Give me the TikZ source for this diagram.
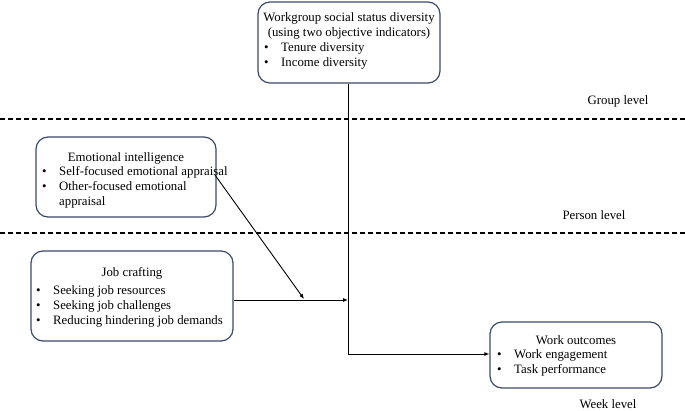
\documentclass[tikz,border=0pt]{standalone}
\usepackage{fontspec}
\setmainfont{Liberation Serif}
\usetikzlibrary{arrows.meta}
\definecolor{bx}{HTML}{3A4A66}
\newcommand{\bl}{\makebox[17pt][l]{\textbullet}}
\begin{document}
\begin{tikzpicture}[x=1pt,y=-1pt,
  box/.style={draw=bx,line width=1.2pt,rounded corners=12pt,inner sep=0pt},
  txt/.style={font=\fontsize{12.8}{15}\selectfont,align=left,anchor=north west,inner sep=0pt},
  lvl/.style={font=\fontsize{12.8}{15}\selectfont,inner sep=0pt},
  dl/.style={dashed,line width=1.1pt,dash pattern=on 5pt off 3pt},
  ar/.style={line width=0.9pt,-{Latex[length=5pt,width=4pt]}}]
\useasboundingbox (0,0) rectangle (685,410);
% boxes
\node[box,minimum width=182pt,minimum height=81pt] (top) at (349,42.5) {};
\node[txt,anchor=north,align=center] (toptx) at (349,12) {Workgroup social status diversity\\(using two objective indicators)};
\node[txt] (topb) at (264,42) {\bl Tenure diversity\\\bl Income diversity};
\node[box,minimum width=180pt,minimum height=80pt] (ei) at (126,177) {};
\node[txt,anchor=north] (eit) at (126,152) {Emotional intelligence};
\node[txt] (eib) at (42,166) {\bl Self-focused emotional appraisal\\\bl Other-focused emotional\\\hspace*{17pt}appraisal};
\node[box,minimum width=202pt,minimum height=90pt] (jc) at (132,296) {};
\node[txt,anchor=north] (jct) at (132,267) {Job crafting};
\node[txt] (jcb) at (36,285) {\bl Seeking job resources\\\bl Seeking job challenges\\\bl Reducing hindering job demands};
\node[box,minimum width=172pt,minimum height=66pt] (wo) at (576,355) {};
\node[txt,anchor=north] (wot) at (576,335) {Work outcomes};
\node[txt] (wob) at (497,349) {\bl Work engagement\\\bl Task performance};
% levels
\node[lvl] (gl) at (618,101) {Group level};
\node[lvl] (pl) at (594,215) {Person level};
\node[lvl] (wl) at (608,404) {Week level};
\coordinate (d1a) at (0,119); \coordinate (d1b) at (685,119);
\coordinate (d2a) at (0,233); \coordinate (d2b) at (685,233);
\draw[dl] (d1a) -- (d1b);
\draw[dl] (d2a) -- (d2b);
% connectors
\coordinate (v) at (348,300);
\coordinate (c) at (348,354);
\coordinate (m) at (304,299);
\draw[ar] (jc.east |- v) -- (v);
\draw[line width=0.9pt] (top.south -| v) -- (c);
\draw[ar] (c) -- (wo.west |- c);
\draw[ar] (215,175) -- (m);
\end{tikzpicture}
\end{document}
